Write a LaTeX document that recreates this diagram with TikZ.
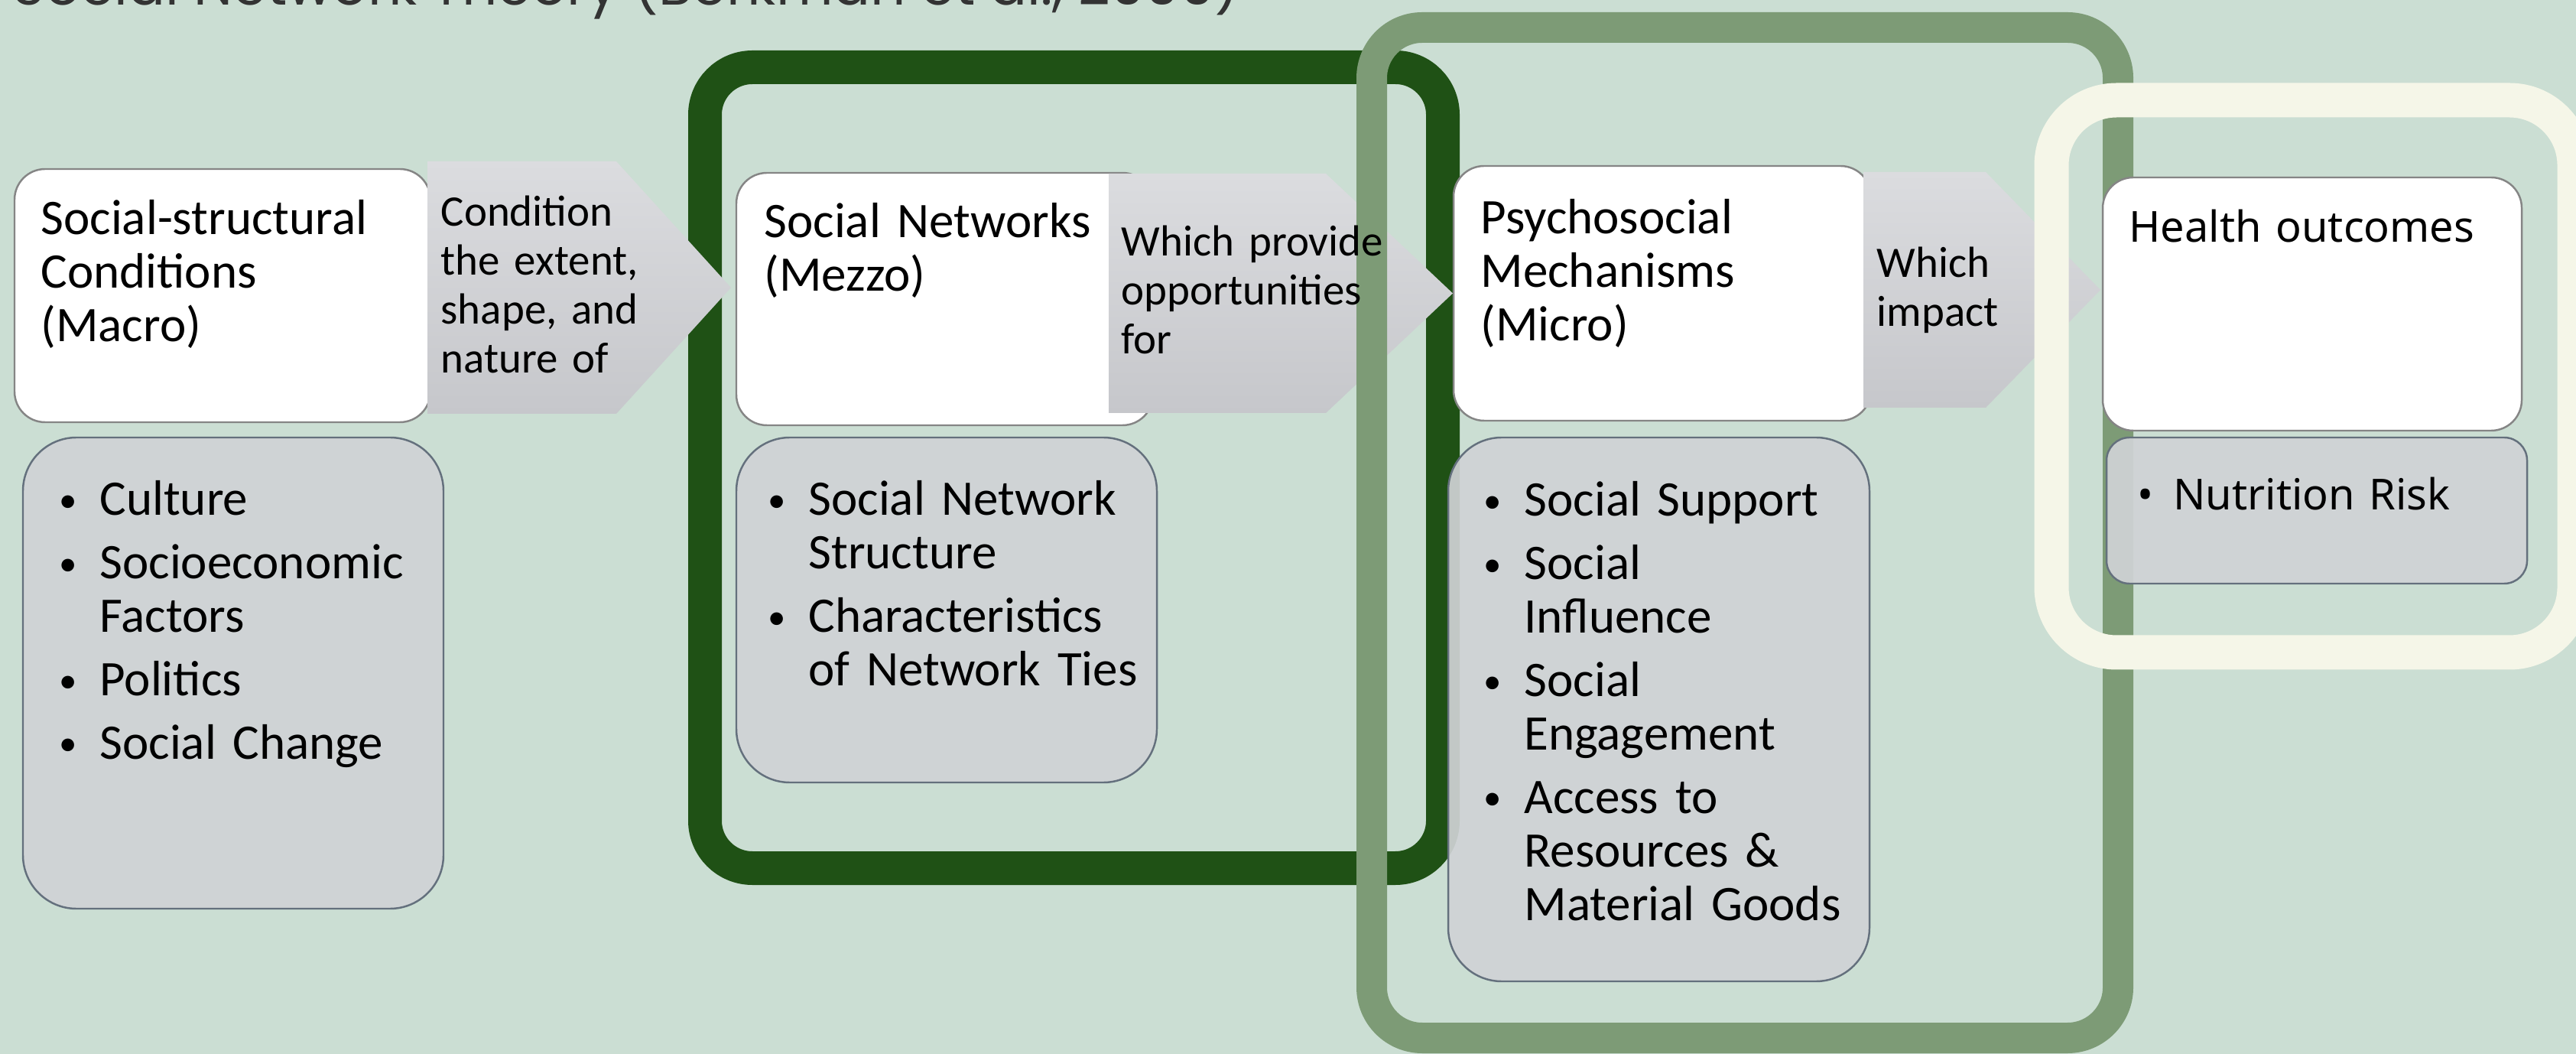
\documentclass[tikz,border=0pt]{standalone}
\usepackage{fontspec}
\setmainfont{Carlito}
\newfontfamily\notosans{Noto Sans}
\newfontfamily\titlefont{Poppins}
\usetikzlibrary{positioning}
\definecolor{bgSage}{HTML}{CBDED3}
\definecolor{darkGreen}{HTML}{1F5115}
\definecolor{midGreen}{HTML}{7D9B76}
\definecolor{creamRing}{HTML}{F5F6E8}
\definecolor{boxGray}{HTML}{D0D3D6}
\definecolor{boxLine}{HTML}{64707D}
\definecolor{whiteLine}{HTML}{858585}
\definecolor{arrowTop}{HTML}{DBDCDF}
\definecolor{arrowBottom}{HTML}{C6C7CB}
\definecolor{titleGray}{HTML}{333333}
\newcommand{\bitem}[1]{\setlength{\parskip}{3.7pt}\hangindent=0.56cm\hangafter=1\noindent\makebox[0.56cm][l]{\hspace{0.03cm}\raisebox{0.07em}{\scalebox{0.72}{\textbullet}}}#1\par}

\begin{document}
\begin{tikzpicture}
	%defines
	\tikzstyle{whiteBox} = [rectangle, rounded corners=0.4cm, fill=white, draw=whiteLine, line width=0.7pt, inner sep=0pt]
	\tikzstyle{grayBox} = [rectangle, rounded corners=0.7cm, fill=boxGray, fill opacity=0.92, draw=boxLine, line width=0.7pt, inner sep=0pt]
	\tikzstyle{boxTitle} = [anchor=base west, inner sep=0pt, text width=5.2cm, align=left, font=\fontsize{18.5pt}{19.9pt}\selectfont]
	\tikzstyle{bulletList} = [anchor=base west, inner sep=0pt, text width=5.2cm, align=left, font=\fontsize{18.5pt}{19.9pt}\selectfont]
	\tikzstyle{arrowText} = [anchor=base west, inner sep=0pt, text width=4cm, align=left, font=\fontsize{16.2pt}{18.2pt}\selectfont]
	\tikzstyle{outcomeText} = [anchor=base west, inner sep=0pt, text width=5.2cm, align=left, font=\notosans\fontsize{15.9pt}{19pt}\selectfont]
	\tikzstyle{arrowShade} = [top color=arrowTop, bottom color=arrowBottom]
	\tikzstyle{frameDark} = [draw=darkGreen, line width=0.44cm, rounded corners=0.62cm]
	\tikzstyle{frameLight} = [draw=midGreen, line width=0.40cm, rounded corners=0.66cm]
	\tikzstyle{frameCream} = [draw=creamRing, line width=0.45cm, rounded corners=0.85cm]
	\tikzstyle{titleText} = [anchor=base west, inner sep=0pt, text=titleGray, font=\titlefont\fontsize{20.6pt}{24pt}\selectfont]
	%canvas
	\useasboundingbox (0,0) rectangle (33.69,-13.78);
	\fill[bgSage] (0,0) rectangle (33.69,-13.78);
	\draw[frameDark] (9.22,-0.88) rectangle (18.87,-11.35);
	%chart
	\node (socialStructural) [whiteBox, minimum width=5.44cm, minimum height=3.31cm] at (2.91,-3.865) {};
	\node (socialNetworks) [whiteBox, minimum width=5.45cm, minimum height=3.30cm] at (12.355,-3.91) {};
	\node (psychosocial) [whiteBox, minimum width=5.46cm, minimum height=3.33cm] at (21.74,-3.835) {};
	\node (macroText) [boxTitle] at ([shift={(0.35,-0.87)}]socialStructural.north west) {Social-structural\\Conditions\\(Macro)};
	\node (mezzoText) [boxTitle] at ([shift={(0.37,-0.86)}]socialNetworks.north west) {Social Networks\\(Mezzo)};
	\node (microText) [boxTitle] at ([shift={(0.36,-0.90)}]psychosocial.north west) {Psychosocial\\Mechanisms\\(Micro)};
	\node (macroBox) [grayBox, minimum width=5.50cm, minimum height=6.16cm] at (3.05,-8.80) {};
	\node (mezzoBox) [grayBox, minimum width=5.50cm, minimum height=4.51cm] at (12.38,-7.975) {};
	\node (microBox) [grayBox, minimum width=5.51cm, minimum height=7.11cm] at (21.695,-9.275) {};
	\node (macroList) [bulletList] at ([shift={(0.45,-1.03)}]macroBox.north west) {\bitem{Culture}\bitem{Socioeconomic\newline Factors}\bitem{Politics}\bitem{Social Change}};
	\node (mezzoList) [bulletList] at ([shift={(0.39,-1.03)}]mezzoBox.north west) {\bitem{Social Network\newline Structure}\bitem{Characteristics\newline of Network Ties}};
	\node (microList) [bulletList] at ([shift={(0.44,-1.04)}]microBox.north west) {\bitem{Social Support}\bitem{Social\newline Influence}\bitem{Social\newline Engagement}\bitem{Access to\newline Resources \&\newline Material Goods}};
	%block arrows
	\shade[arrowShade] (5.59,-2.11) -- (8.06,-2.11) -- (9.56,-3.76) -- (8.06,-5.41) -- (5.59,-5.41) -- cycle;
	\shade[arrowShade] (14.50,-2.27) -- (17.34,-2.27) -- (19.00,-3.835) -- (17.34,-5.40) -- (14.50,-5.40) -- cycle;
	\shade[arrowShade] (24.37,-2.25) -- (25.97,-2.25) -- (27.47,-3.79) -- (25.97,-5.33) -- (24.37,-5.33) -- cycle;
	%frames
	\draw[frameLight] (17.94,-0.36) rectangle (27.70,-13.57);
	\draw[frameCream] (26.83,-1.31) rectangle (33.67,-8.53);
	\node (conditionText) [arrowText] at (5.76,-2.96) {Condition\\the extent,\\shape, and\\nature of};
	\node (provideText) [arrowText] at (14.66,-3.35) {Which provide\\opportunities\\for};
	\node (impactText) [arrowText] at (24.54,-3.63) {Which\\impact};
	\node (healthOutcomes) [whiteBox, minimum width=5.48cm, minimum height=3.31cm] at (30.24,-3.975) {};
	\node (healthText) [outcomeText] at ([shift={(0.35,-0.86)}]healthOutcomes.north west) {Health outcomes};
	\node (outcomeBox) [grayBox, rounded corners=0.3cm, minimum width=5.50cm, minimum height=1.91cm] at (30.30,-6.675) {};
	\node (outcomeList) [outcomeText] at ([shift={(0.41,-0.96)}]outcomeBox.north west) {\makebox[0.47cm][l]{\textbullet}Nutrition Risk};
	%title
	\node (theoryTitle) [titleText] at (0.16,-0.07) {Social Network Theory (Berkman et al., 2000)};
\end{tikzpicture}
\end{document}
